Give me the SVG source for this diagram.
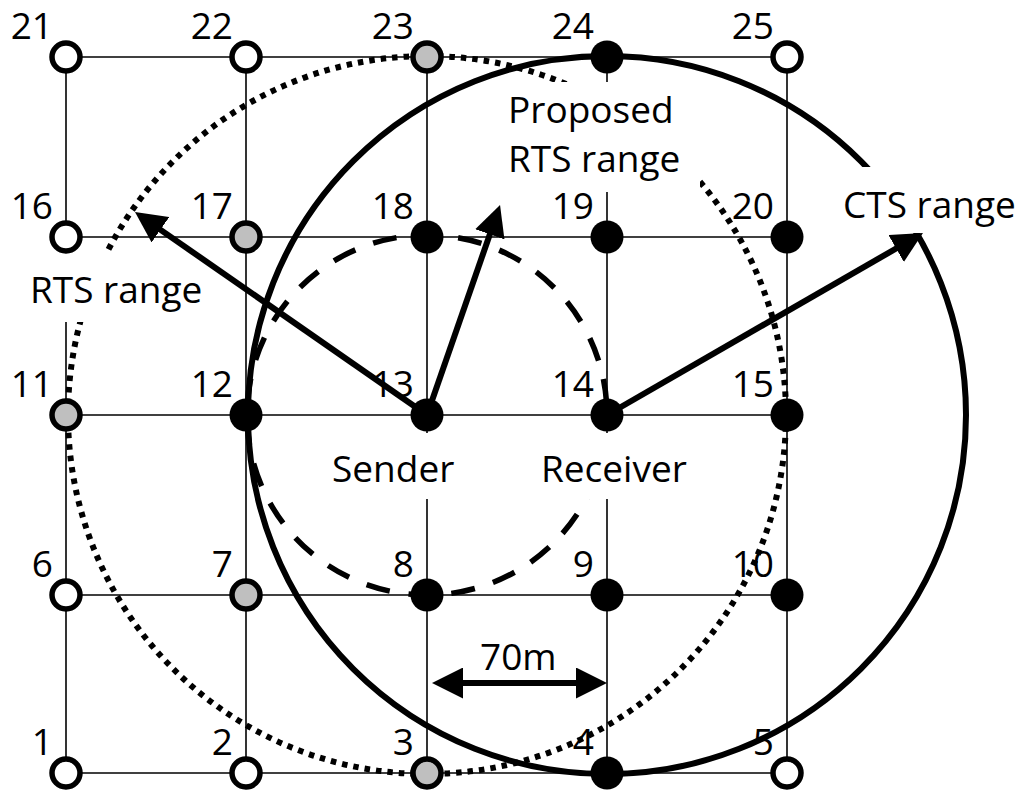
<svg xmlns="http://www.w3.org/2000/svg" width="1025" height="792" viewBox="0 0 1025 792">
<defs>
<style>
.grid{stroke:#000;stroke-width:1.6;fill:none}
.t{font-family:"Open Sans","Noto Sans","Liberation Sans",sans-serif;font-size:37px;fill:#000}
.num{text-anchor:end}
.open{fill:#fff;stroke:#000;stroke-width:5.5}
.gray{fill:#bfbfbf;stroke:#000;stroke-width:5.5}
.black{fill:#000}
.rts{fill:none;stroke:#000;stroke-width:6;stroke-dasharray:5.5 6}
.cts{fill:none;stroke:#000;stroke-width:6}
.prop{fill:none;stroke:#000;stroke-width:5.5;stroke-dasharray:24 19;stroke-dashoffset:23.8}
.box{fill:#fff;stroke:none}
.arrow{stroke:#000;stroke-width:6;fill:none;marker-end:url(#ah)}
.darrow{stroke:#000;stroke-width:6;fill:none;marker-end:url(#ah);marker-start:url(#ah)}
</style>
<marker id="ah" markerUnits="userSpaceOnUse" viewBox="0 0 31 31" markerWidth="31" markerHeight="31" refX="16" refY="15.5" orient="auto-start-reverse">
<path d="M0,0 L31,15.5 L0,31 z" fill="#000"/>
</marker>
</defs>
<rect width="1025" height="792" fill="#fff"/>
<g id="grid" class="grid">
<line x1="66" y1="57" x2="787" y2="57"/>
<line x1="66" y1="237" x2="787" y2="237"/>
<line x1="66" y1="415" x2="787" y2="415"/>
<line x1="66" y1="595" x2="787" y2="595"/>
<line x1="66" y1="773" x2="787" y2="773"/>
<line x1="66" y1="57" x2="66" y2="773"/>
<line x1="246" y1="57" x2="246" y2="773"/>
<line x1="427" y1="57" x2="427" y2="773"/>
<line x1="607" y1="57" x2="607" y2="773"/>
<line x1="787" y1="57" x2="787" y2="773"/>
</g>
<g id="ranges">
<circle class="rts" cx="427" cy="415" r="359"/>
<circle class="cts" cx="607" cy="415" r="359"/>
<circle class="prop" cx="427" cy="415" r="180"/>
</g>
<g id="labels">
<rect class="box" x="20" y="253" width="196" height="69"/>
<text class="t" x="30" y="303">RTS range</text>
<rect class="box" x="495" y="82" width="205" height="110"/>
<text class="t" x="508" y="123">Proposed</text>
<text class="t" x="508" y="172">RTS range</text>
<rect class="box" x="830" y="167" width="192" height="66"/>
<text class="t" x="843" y="218">CTS range</text>
<rect class="box" x="325" y="433" width="137" height="66"/>
<text class="t" x="332" y="482">Sender</text>
<rect class="box" x="533" y="433" width="162" height="66"/>
<text class="t" x="541" y="482">Receiver</text>
<text class="t" x="480" y="670">70m</text>
</g>
<g id="connectors">
<line class="arrow" x1="427" y1="415" x2="147.3" y2="220.6"/>
<line class="arrow" x1="427" y1="415" x2="495.1" y2="219.2"/>
<line class="arrow" x1="607" y1="415" x2="910" y2="240.5"/>
<line class="darrow" x1="447" y1="683" x2="592" y2="683"/>
</g>
<g id="n21"><circle class="open" cx="66" cy="57" r="14"/><text class="t num" x="53" y="39">21</text></g>
<g id="n22"><circle class="open" cx="246" cy="57" r="14"/><text class="t num" x="233" y="39">22</text></g>
<g id="n23"><circle class="gray" cx="427" cy="57" r="14"/><text class="t num" x="414" y="39">23</text></g>
<g id="n24"><circle class="black" cx="607" cy="57" r="16.5"/><text class="t num" x="594" y="39">24</text></g>
<g id="n25"><circle class="open" cx="787" cy="57" r="14"/><text class="t num" x="774" y="39">25</text></g>
<g id="n16"><circle class="open" cx="66" cy="237" r="14"/><text class="t num" x="53" y="219">16</text></g>
<g id="n17"><circle class="gray" cx="246" cy="237" r="14"/><text class="t num" x="233" y="219">17</text></g>
<g id="n18"><circle class="black" cx="427" cy="237" r="16.5"/><text class="t num" x="414" y="219">18</text></g>
<g id="n19"><circle class="black" cx="607" cy="237" r="16.5"/><text class="t num" x="594" y="219">19</text></g>
<g id="n20"><circle class="black" cx="787" cy="237" r="16.5"/><text class="t num" x="774" y="219">20</text></g>
<g id="n11"><circle class="gray" cx="66" cy="415" r="14"/><text class="t num" x="53" y="397">11</text></g>
<g id="n12"><circle class="black" cx="246" cy="415" r="16.5"/><text class="t num" x="233" y="397">12</text></g>
<g id="n13"><circle class="black" cx="427" cy="415" r="16.5"/><text class="t num" x="414" y="397">13</text></g>
<g id="n14"><circle class="black" cx="607" cy="415" r="16.5"/><text class="t num" x="594" y="397">14</text></g>
<g id="n15"><circle class="black" cx="787" cy="415" r="16.5"/><text class="t num" x="774" y="397">15</text></g>
<g id="n6"><circle class="open" cx="66" cy="595" r="14"/><text class="t num" x="53" y="577">6</text></g>
<g id="n7"><circle class="gray" cx="246" cy="595" r="14"/><text class="t num" x="233" y="577">7</text></g>
<g id="n8"><circle class="black" cx="427" cy="595" r="16.5"/><text class="t num" x="414" y="577">8</text></g>
<g id="n9"><circle class="black" cx="607" cy="595" r="16.5"/><text class="t num" x="594" y="577">9</text></g>
<g id="n10"><circle class="black" cx="787" cy="595" r="16.5"/><text class="t num" x="774" y="577">10</text></g>
<g id="n1"><circle class="open" cx="66" cy="773" r="14"/><text class="t num" x="53" y="755">1</text></g>
<g id="n2"><circle class="open" cx="246" cy="773" r="14"/><text class="t num" x="233" y="755">2</text></g>
<g id="n3"><circle class="gray" cx="427" cy="773" r="14"/><text class="t num" x="414" y="755">3</text></g>
<g id="n4"><circle class="black" cx="607" cy="773" r="16.5"/><text class="t num" x="594" y="755">4</text></g>
<g id="n5"><circle class="open" cx="787" cy="773" r="14"/><text class="t num" x="774" y="755">5</text></g>
</svg>
